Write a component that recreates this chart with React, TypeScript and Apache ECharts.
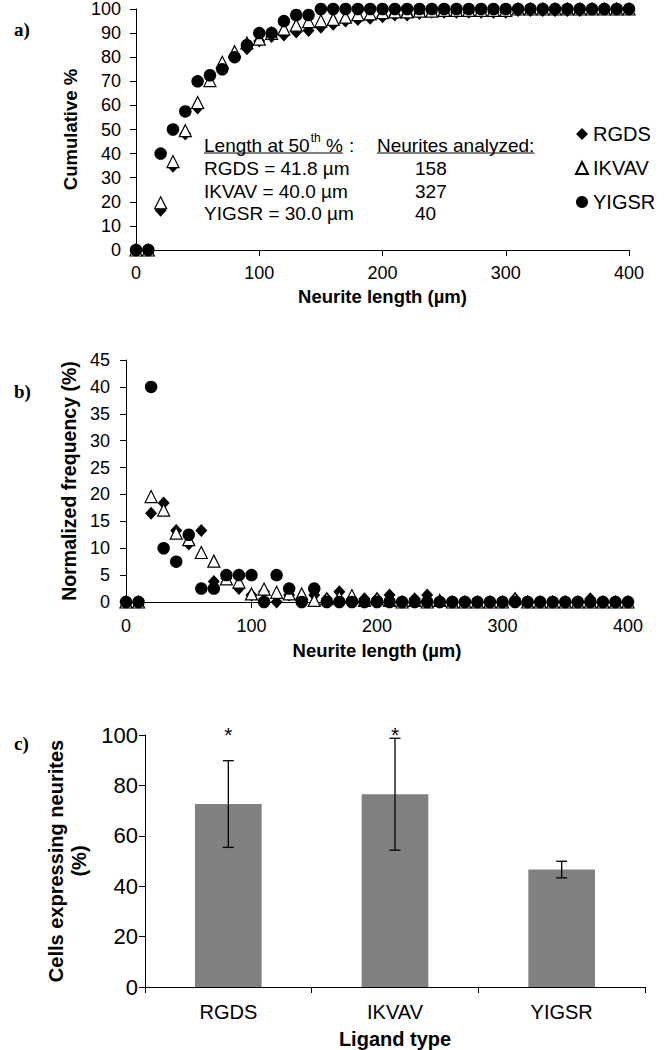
import React, { useEffect, useRef } from 'react';
import * as echarts from 'echarts';

// ---------- DATA ----------
const LENGTHS = [0, 10, 20, 30, 40, 50, 60, 70, 80, 90, 100, 110, 120, 130, 140, 150, 160, 170, 180, 190, 200,
  210, 220, 230, 240, 250, 260, 270, 280, 290, 300, 310, 320, 330, 340, 350, 360, 370, 380, 390, 400];
const SERIES_NAMES = ['RGDS', 'IKVAV', 'YIGSR'];

// a) cumulative %
const RGDS_CUM = [0, 0, 16.5, 34.8, 48.1, 58.9, 72.2, 75.3, 80.4, 83.5, 86.7, 88.6, 89.2, 90.5, 91.1, 92.4, 93.7, 95.0, 95.6, 96.2, 96.8,
  97.5, 97.5, 98.1, 98.7, 98.7, 98.7, 98.7, 98.7, 98.7, 98.7, 99.4, 99.4, 99.4, 99.4, 99.4, 99.4, 100, 100, 100, 100];
const IKVAV_CUM = [0, 0, 19.6, 36.7, 49.5, 61.2, 70.3, 77.9, 82.3, 85.9, 87.5, 89.9, 91.7, 93.3, 94.8, 95.1, 95.7, 96.6, 97.7, 98.0, 98.5,
  98.8, 98.8, 99.1, 99.1, 99.4, 99.4, 99.4, 99.4, 99.4, 99.4, 100, 100, 100, 100, 100, 100, 100, 100, 100, 100];
const YIGSR_CUM = [0, 0, 40, 50, 57.5, 70, 72.5, 75, 80, 85, 90, 90, 95, 97.5, 97.5, 100, 100, 100, 100, 100, 100,
  100, 100, 100, 100, 100, 100, 100, 100, 100, 100, 100, 100, 100, 100, 100, 100, 100, 100, 100, 100];

// b) normalized frequency (%)
const RGDS_FREQ = [0, 0, 16.5, 18.4, 13.3, 10.8, 13.3, 3.8, 4.4, 2.5, 1.3, 1.9, 0, 1.3, 0.6, 1.3, 0.6, 1.9, 0.6, 0.6, 0.6,
  1.3, 0, 0.6, 1.3, 0, 0, 0, 0, 0, 0, 0.6, 0, 0, 0, 0, 0, 0.6, 0, 0, 0];
const IKVAV_FREQ = [0, 0, 19.6, 17.1, 12.8, 11.6, 9.2, 7.6, 4.3, 3.7, 1.5, 2.4, 1.8, 1.5, 1.5, 0.3, 0.6, 0.9, 1.2, 0.3, 0.6,
  0.3, 0, 0.3, 0, 0.3, 0, 0, 0, 0, 0, 0.6, 0, 0, 0, 0, 0, 0, 0, 0, 0];
const YIGSR_FREQ = [0, 0, 40, 10, 7.5, 12.5, 2.5, 2.5, 5, 5, 5, 0, 5, 2.5, 0, 2.5, 0, 0, 0, 0, 0,
  0, 0, 0, 0, 0, 0, 0, 0, 0, 0, 0, 0, 0, 0, 0, 0, 0, 0, 0, 0];

// c) cells expressing neurites
const LIGANDS = ['RGDS', 'IKVAV', 'YIGSR'];
const CELLS_PCT = [72.6, 76.5, 46.6];
const CELLS_ERR = [17.2, 22.2, 3.3];
const SIG_MARKS = ['*', '*', ''];

// annotation texts
const MEDIAN_LINES = ['RGDS = 41.8 µm', 'IKVAV = 40.0 µm', 'YIGSR = 30.0 µm'];
const NEURITE_COUNTS = ['158', '327', '40'];

const SANS = "'Liberation Sans', Arial, sans-serif";
const SERIF = "'Liberation Serif', 'Times New Roman', serif";

function measure(text: string, font: string): number {
  const c = document.createElement('canvas').getContext('2d');
  if (!c) return text.length * 10;
  c.font = font;
  return c.measureText(text).width;
}

export default function App() {
  const ref = useRef<HTMLDivElement>(null);

  useEffect(() => {
    if (!ref.current) return;
    const chart = echarts.init(ref.current, null, { renderer: 'svg' });

    const axisCommon = (fontSize: number, margin: number) => ({
      axisLine: { show: true, onZero: false, lineStyle: { color: '#000', width: 1 } },
      axisTick: { show: true, inside: false, length: 6, lineStyle: { color: '#000', width: 1 } },
      splitLine: { show: false },
      axisLabel: { color: '#000', fontSize, fontFamily: SANS, margin },
    });
    const nameStyle = (fontSize: number) => ({
      color: '#000', fontSize, fontWeight: 'bold' as const, fontFamily: SANS,
    });

    const symbolStyles = [
      { symbol: 'diamond', symbolSize: [12, 13], itemStyle: { color: '#000', opacity: 1 } },
      { symbol: 'triangle', symbolSize: 12, itemStyle: { color: '#fff', borderColor: '#000', borderWidth: 1.2, opacity: 1 } },
      { symbol: 'circle', symbolSize: 12.5, itemStyle: { color: '#000', opacity: 1 } },
    ];

    const cumData = [RGDS_CUM, IKVAV_CUM, YIGSR_CUM];
    const freqData = [RGDS_FREQ, IKVAV_FREQ, YIGSR_FREQ];

    const scatterSeries: any[] = [];
    SERIES_NAMES.forEach((name, s) => {
      scatterSeries.push({
        type: 'scatter', name, xAxisIndex: 0, yAxisIndex: 0, z: 3 + s,
        ...symbolStyles[s],
        data: LENGTHS.map((x, i) => [x, cumData[s][i]]),
      });
    });
    SERIES_NAMES.forEach((name, s) => {
      scatterSeries.push({
        type: 'scatter', name, xAxisIndex: 1, yAxisIndex: 1, z: 3 + s,
        ...symbolStyles[s],
        data: LENGTHS.map((x, i) => [x, freqData[s][i]]),
      });
    });

    // annotation graphics
    const annFont = `19px ${SANS}`;
    const supFont = `12px ${SANS}`;
    const x0 = 204;
    const rowY = [145, 168, 191, 213];
    const w1 = measure('Length at 50', annFont);
    const w2 = measure('th', supFont);
    const w3 = measure(' %', annFont);
    const underlineEnd1 = x0 + w1 + 1 + w2 + w3;
    const colX = 377;
    const wN = measure('Neurites analyzed:', annFont);

    const txt = (text: string, x: number, y: number, font: string, extra: any = {}) => ({
      type: 'text', x, y, silent: true,
      style: { text, font, fill: '#000', align: 'left', textAlign: 'left', verticalAlign: 'middle', textVerticalAlign: 'middle', ...extra },
    });

    const graphics: any[] = [
      txt('a)', 14, 29, `bold 19px ${SERIF}`),
      txt('b)', 14, 391, `bold 19px ${SERIF}`),
      txt('c)', 14, 743, `bold 19px ${SERIF}`),
      txt('Length at 50', x0, rowY[0], annFont),
      txt('th', x0 + w1 + 1, rowY[0] - 7, supFont),
      txt(' %', x0 + w1 + 1 + w2, rowY[0], annFont),
      txt(' :', underlineEnd1 + 1, rowY[0], annFont),
      { type: 'line', silent: true, shape: { x1: x0, y1: rowY[0] + 8, x2: underlineEnd1, y2: rowY[0] + 8 }, style: { stroke: '#000', lineWidth: 1 } },
      txt('Neurites analyzed:', colX, rowY[0], annFont),
      { type: 'line', silent: true, shape: { x1: colX, y1: rowY[0] + 8, x2: colX + wN, y2: rowY[0] + 8 }, style: { stroke: '#000', lineWidth: 1 } },
    ];
    MEDIAN_LINES.forEach((t, i) => graphics.push(txt(t, x0, rowY[i + 1], annFont)));
    NEURITE_COUNTS.forEach((t, i) => graphics.push(txt(t, 415, rowY[i + 1], annFont)));

    const option: any = {
      animation: false,
      backgroundColor: '#fff',
      grid: [
        { left: 136, top: 7, width: 493, height: 243 },
        { left: 126, top: 360, width: 502, height: 242 },
        { left: 145, top: 735, width: 500, height: 252 },
      ],
      legend: {
        data: [
          { name: 'RGDS', icon: 'diamond' },
          { name: 'IKVAV', icon: 'triangle' },
          { name: 'YIGSR', icon: 'circle' },
        ],
        orient: 'vertical', left: 570, top: 119,
        itemWidth: 12, itemHeight: 12, itemGap: 14,
        textStyle: { color: '#000', fontSize: 20, fontFamily: SANS, lineHeight: 19 },
        selectedMode: false,
      },
      xAxis: [
        {
          gridIndex: 0, type: 'value', min: 0, max: 400, interval: 100,
          name: 'Neurite length (µm)', nameLocation: 'middle', nameGap: 37, nameTextStyle: nameStyle(18.5),
          ...axisCommon(18, 14),
        },
        {
          gridIndex: 1, type: 'value', min: 0, max: 400, interval: 100,
          name: 'Neurite length (µm)', nameLocation: 'middle', nameGap: 39, nameTextStyle: nameStyle(18.5),
          ...axisCommon(18, 15),
        },
        {
          gridIndex: 2, type: 'category', data: LIGANDS,
          name: 'Ligand type', nameLocation: 'middle', nameGap: 42, nameTextStyle: nameStyle(20),
          ...axisCommon(20, 15),
          axisTick: { show: true, inside: false, length: 6, alignWithLabel: false, lineStyle: { color: '#000', width: 1 } },
        },
      ],
      yAxis: [
        {
          gridIndex: 0, type: 'value', min: 0, max: 100, interval: 10,
          name: 'Cumulative %', nameLocation: 'middle', nameGap: 56, nameRotate: 90, nameTextStyle: nameStyle(18.5),
          ...axisCommon(18, 15),
        },
        {
          gridIndex: 1, type: 'value', min: 0, max: 45, interval: 5,
          name: 'Normalized frequency (%)', nameLocation: 'middle', nameGap: 45, nameRotate: 90, nameTextStyle: nameStyle(19.5),
          ...axisCommon(18, 16),
        },
        {
          gridIndex: 2, type: 'value', min: 0, max: 100, interval: 20,
          name: 'Cells expressing neurites\n(%)', nameLocation: 'middle', nameGap: 34, nameRotate: 90,
          nameTextStyle: { ...nameStyle(20), lineHeight: 23, align: 'center' },
          ...axisCommon(22, 7),
        },
      ],
      series: [
        ...scatterSeries,
        {
          type: 'bar', xAxisIndex: 2, yAxisIndex: 2, barWidth: '40%',
          itemStyle: { color: '#808080' },
          data: CELLS_PCT,
        },
        {
          type: 'custom', xAxisIndex: 2, yAxisIndex: 2, z: 10,
          encode: { x: 0, y: 1 },
          data: LIGANDS.map((_, i) => [i, CELLS_PCT[i], CELLS_ERR[i]]),
          renderItem: (params: any, api: any) => {
            const i = api.value(0);
            const m = api.value(1);
            const e = api.value(2);
            const top = api.coord([i, m + e]);
            const bot = api.coord([i, m - e]);
            const star = api.coord([i, 101.5]);
            const cap = 5.5;
            const ls = { stroke: '#000', lineWidth: 1.3 };
            const children: any[] = [
              { type: 'line', shape: { x1: top[0], y1: top[1], x2: bot[0], y2: bot[1] }, style: ls },
              { type: 'line', shape: { x1: top[0] - cap, y1: top[1], x2: top[0] + cap, y2: top[1] }, style: ls },
              { type: 'line', shape: { x1: bot[0] - cap, y1: bot[1], x2: bot[0] + cap, y2: bot[1] }, style: ls },
            ];
            const mark = SIG_MARKS[params.dataIndex];
            if (mark) {
              children.push({
                type: 'text',
                style: {
                  text: mark, x: star[0], y: star[1] + 3, fill: '#000', font: `21px ${SANS}`,
                  align: 'center', textAlign: 'center', verticalAlign: 'middle', textVerticalAlign: 'middle',
                },
              });
            }
            return { type: 'group', children };
          },
        },
      ],
      graphic: graphics,
    };

    chart.setOption(option);
    return () => chart.dispose();
  }, []);

  return (
    <div
      ref={ref}
      style={{ position: 'absolute', left: 0, top: 0, width: 668, height: 1050, background: '#fff' }}
    />
  );
}
